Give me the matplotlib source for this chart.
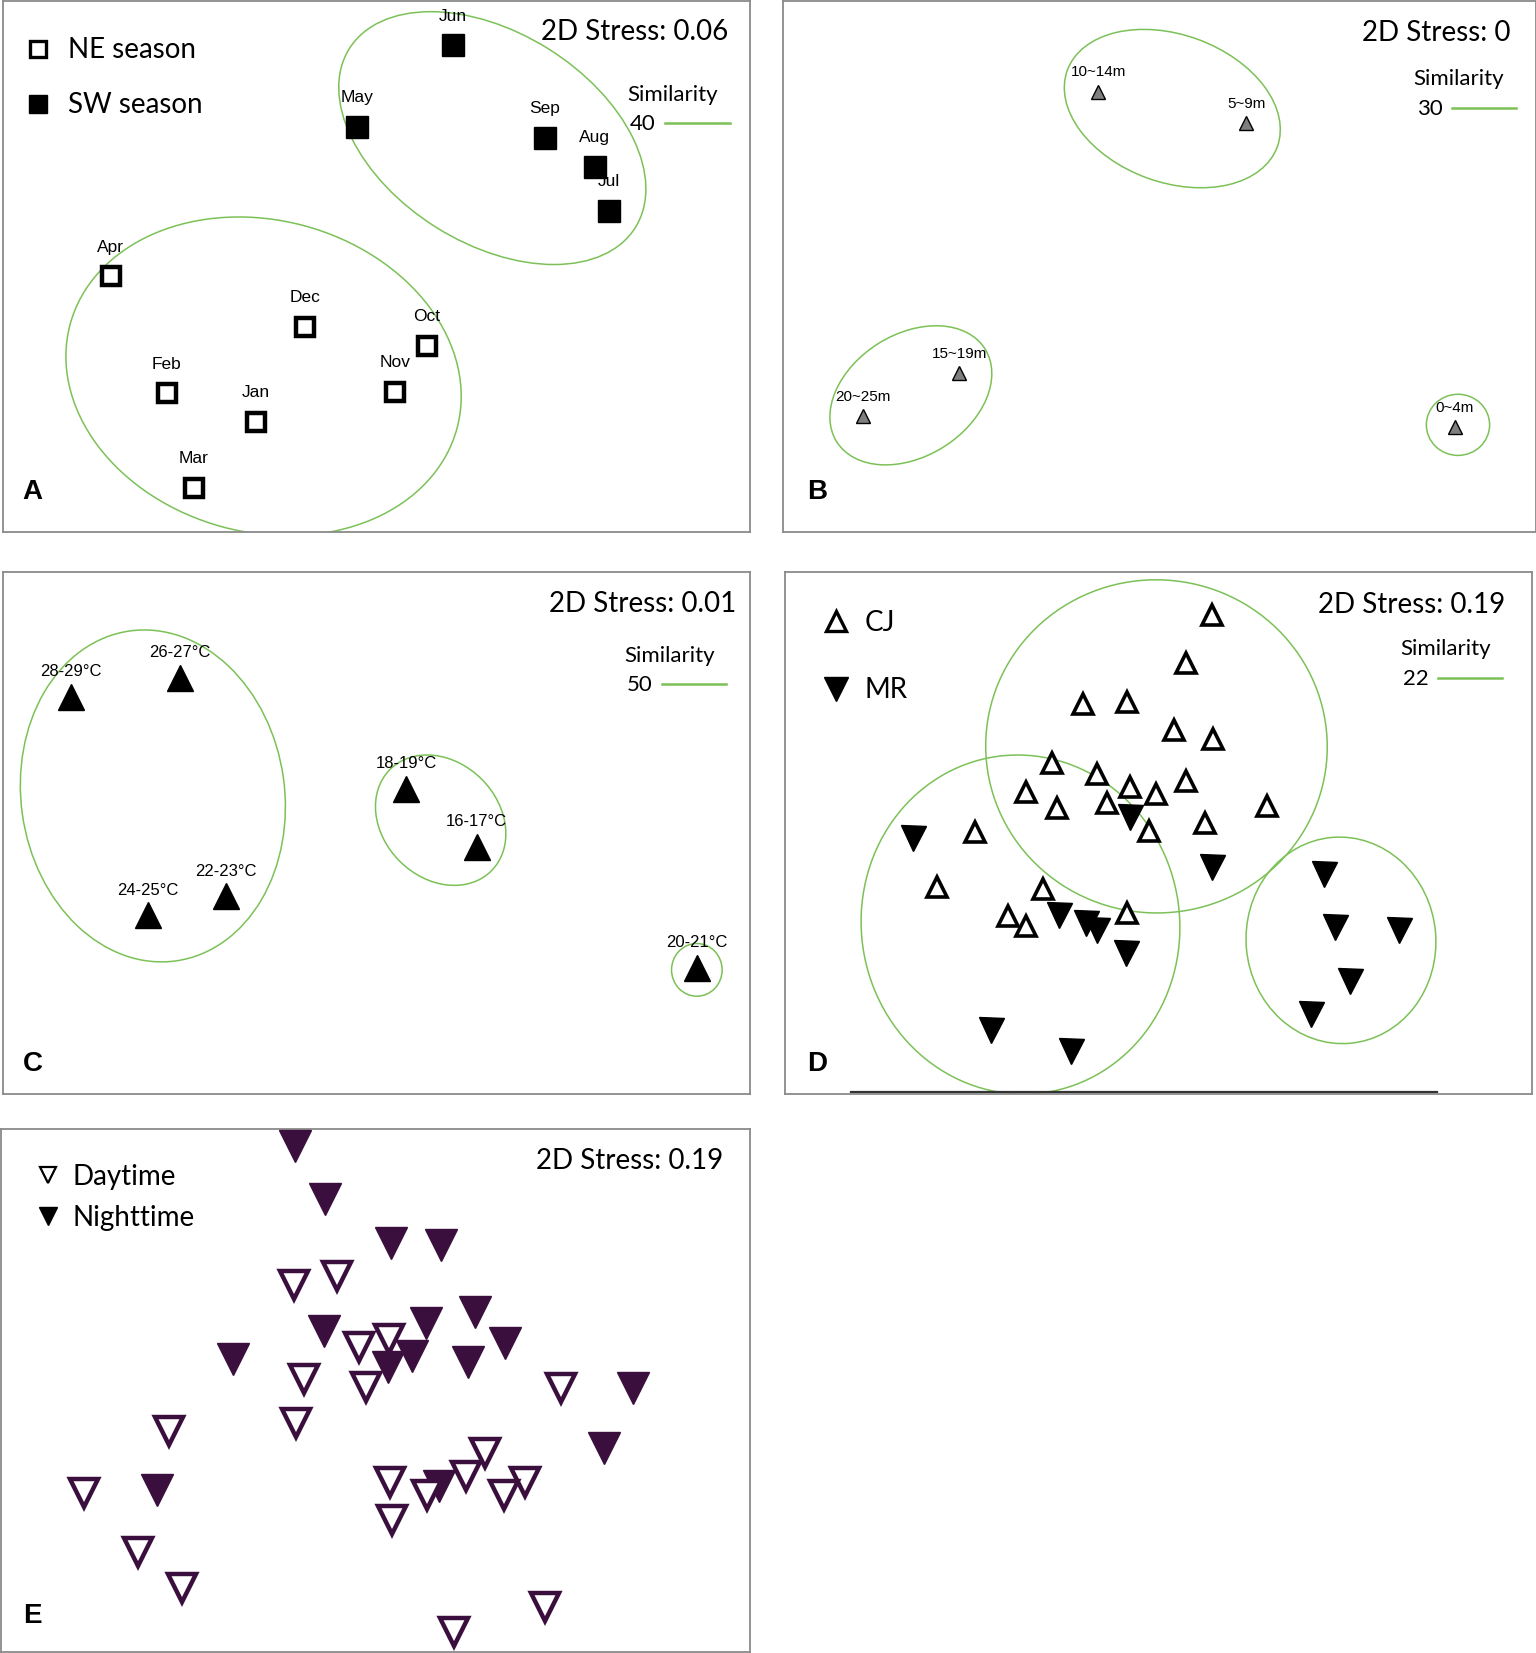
import matplotlib
matplotlib.use("Agg")
from matplotlib import pyplot as plt
from matplotlib.patches import Ellipse
from matplotlib.lines import Line2D

# reference frame (all positions below are read in this pixel frame)
W, H = 1457, 1568

GREEN = "#7cc157"
PURPLE = "#3b0f3d"
FRAME = "#8a8a8a"
CAL = ["Lato", "DejaVu Sans"]
ARL = ["Liberation Sans", "DejaVu Sans"]

# ---------------- panel A: months ----------------
ne_months = ["Apr", "Dec", "Oct", "Feb", "Nov", "Jan", "Mar"]
ne_x = [105, 289, 405, 158, 375, 243, 184]
ne_y = [262, 310, 328, 373, 372, 400, 463]
sw_months = ["Jun", "May", "Sep", "Aug", "Jul"]
sw_x = [430, 339, 517, 564, 578]
sw_y = [43, 120, 131, 158, 200]
a_ell_cx = [467, 250]
a_ell_cy = [131, 357]
a_ell_w = [320, 380]
a_ell_h = [200, 296]
a_ell_ang = [32, 15]

# ---------------- panel B: depth ----------------
depth_labels = ["10~14m", "5~9m", "15~19m", "20~25m", "0~4m"]
depth_x = [1042, 1182, 910, 819, 1380]
depth_y = [87, 117, 354, 395, 405]
b_ell_cx = [1112, 864, 1383]
b_ell_cy = [103, 375, 403]
b_ell_w = [212, 166, 58]
b_ell_h = [140, 116, 60]
b_ell_ang = [20, -32, 90]

# ---------------- panel C: temperature ----------------
temp_labels = ["28-29°C", "26-27°C", "18-19°C", "16-17°C", "24-25°C", "22-23°C", "20-21°C"]
temp_x = [67, 171, 385, 452, 140, 214, 661]
temp_y = [661, 643, 748, 803, 868, 850, 918]
c_ell_cx = [145, 418, 661]
c_ell_cy = [755, 778, 920]
c_ell_w = [250, 136, 48]
c_ell_h = [316, 110, 50]
c_ell_ang = [-8, 45, 0]

# ---------------- panel D: CJ / MR ----------------
cj_x = [1150, 1125, 1027, 1069, 1114, 1151, 998, 1041, 1072, 973, 1003, 1050,
        1097, 1125, 1202, 1143, 1090, 925, 889, 989, 956, 973, 1069]
cj_y = [583, 629, 668, 666, 692, 701, 724, 734, 747, 751, 766, 762,
        753, 741, 765, 781, 788, 789, 841, 843, 869, 878, 866]
mr_x = [1072, 866, 1150, 1256, 1005, 1030, 1041, 1266, 1327, 1068, 1281, 940, 1244, 1016]
mr_y = [775, 795, 822, 829, 868, 876, 882, 879, 882, 904, 931, 977, 962, 997]
d_ell_cx = [1097, 968, 1272]
d_ell_cy = [708, 877, 892]
d_ell_w = [324, 302, 180]
d_ell_h = [316, 322, 196]
d_ell_ang = [3, -8, -5]

# ---------------- panel E: day / night ----------------
night_x = [280, 308, 371, 418, 451, 307, 404, 479, 221, 368, 391, 444, 600, 573, 149, 416]
night_y = [1087, 1137, 1179, 1181, 1245, 1263, 1255, 1274, 1289, 1297, 1286, 1292,
           1317, 1374, 1413, 1410]
day_x = [279, 320, 341, 369, 288, 347, 281, 532, 160, 460, 370, 442, 498, 478, 405,
         80, 372, 131, 173, 517, 431]
day_y = [1219, 1210, 1278, 1270, 1308, 1316, 1350, 1317, 1357, 1378, 1406, 1400,
         1406, 1418, 1418, 1416, 1442, 1472, 1506, 1524, 1548]

fig = plt.figure(figsize=(15.36, 16.53), dpi=100)


def make_panel(box):
    l, t, r, b = box
    ax = fig.add_axes([l / W, 1 - b / H, (r - l) / W, (b - t) / H])
    ax.set_xlim(l, r)
    ax.set_ylim(b, t)
    ax.set_xticks([])
    ax.set_yticks([])
    for s in ax.spines.values():
        s.set_color(FRAME)
        s.set_linewidth(1.3)
    return ax


def draw_ellipses(ax, cx, cy, w, h, ang):
    for i in range(len(cx)):
        ax.add_patch(Ellipse((cx[i], cy[i]), w[i], h[i], angle=ang[i], fill=False,
                             edgecolor=GREEN, linewidth=1.1, zorder=1))


def labels(ax, names, xs, ys, off, size):
    for n, x, y in zip(names, xs, ys):
        ax.annotate(n, (x, y), xytext=(0, off), textcoords="offset points",
                    ha="center", va="center", fontsize=size, family=ARL)


def stress(ax, x, y, txt):
    ax.text(x, y, txt, ha="right", va="center", fontsize=20, family=CAL)


def similarity(ax, x, y, val):
    ax.text(x + 45, y, "Similarity", ha="center", va="center", fontsize=16, family=CAL)
    ax.text(x + 17, y + 28, val, ha="center", va="center", fontsize=16, family=CAL)
    ax.plot([x + 38, x + 99], [y + 27, y + 27], color=GREEN, lw=1.8)


def panel_letter(ax, x, y, letter):
    ax.text(x, y, letter, ha="center", va="center", fontsize=20, fontweight="bold", family=ARL)


# A
axA = make_panel((3, 1, 711, 505))
draw_ellipses(axA, a_ell_cx, a_ell_cy, a_ell_w, a_ell_h, a_ell_ang)
axA.plot(ne_x, ne_y, "s", ms=13, mfc="white", mec="black", mew=3.2, ls="none", zorder=3)
axA.plot(sw_x, sw_y, "s", ms=16, mfc="black", mec="black", ls="none", zorder=3)
labels(axA, ne_months, ne_x, ne_y, 21, 12.5)
labels(axA, sw_months, sw_x, sw_y, 21, 12.5)
stress(axA, 691, 30, "2D Stress: 0.06")
similarity(axA, 593, 90, "40")
panel_letter(axA, 31, 467, "A")
hA = [Line2D([], [], marker="s", ls="none", ms=12, mfc="white", mec="black", mew=2.4),
      Line2D([], [], marker="s", ls="none", ms=13.5, mfc="black", mec="black")]
axA.legend(hA, ["NE season", "SW season"], loc="upper left", bbox_to_anchor=(0.01, 0.958),
           frameon=False, prop={"family": CAL, "size": 20}, labelspacing=1.05,
           handlelength=1.0, handletextpad=0.55, borderpad=0)

# B
axB = make_panel((743, 1, 1457, 505))
draw_ellipses(axB, b_ell_cx, b_ell_cy, b_ell_w, b_ell_h, b_ell_ang)
axB.plot(depth_x, depth_y, "^", ms=10, mfc="#7f7f7f", mec="black", mew=1.0, ls="none", zorder=3)
labels(axB, depth_labels, depth_x, depth_y, 14, 11)
stress(axB, 1433, 31, "2D Stress: 0")
similarity(axB, 1339, 75, "30")
panel_letter(axB, 775, 467, "B")

# C
axC = make_panel((3, 543, 711, 1038))
draw_ellipses(axC, c_ell_cx, c_ell_cy, c_ell_w, c_ell_h, c_ell_ang)
axC.plot(temp_x, temp_y, "^", ms=19, mfc="black", mec="black", ls="none", zorder=3)
labels(axC, temp_labels, temp_x, temp_y, 18, 12)
stress(axC, 698, 573, "2D Stress: 0.01")
similarity(axC, 590, 622, "50")
panel_letter(axC, 31, 1009, "C")

# D
axD = make_panel((745, 543, 1453, 1038))
draw_ellipses(axD, d_ell_cx, d_ell_cy, d_ell_w, d_ell_h, d_ell_ang)
axD.plot(cj_x, cj_y, "^", ms=15, mfc="white", mec="black", mew=2.6, ls="none", zorder=3)
axD.plot(mr_x, mr_y, "v", ms=18, mfc="black", mec="black", ls="none", zorder=4)
stress(axD, 1428, 574, "2D Stress: 0.19")
similarity(axD, 1326, 616, "22")
panel_letter(axD, 775, 1009, "D")
axD.axhline(1036, xmin=(807 - 745) / 708, xmax=(1363 - 745) / 708, color="#333333", lw=1.6)
hD = [Line2D([], [], marker="^", ls="none", ms=15, mfc="white", mec="black", mew=2.4),
      Line2D([], [], marker="v", ls="none", ms=17, mfc="black", mec="black")]
axD.legend(hD, ["CJ", "MR"], loc="upper left", bbox_to_anchor=(0.03, 0.955),
           frameon=False, prop={"family": CAL, "size": 20}, labelspacing=1.5,
           handlelength=1.0, handletextpad=0.55, borderpad=0)

# E
axE = make_panel((1, 1071, 711, 1567))
axE.plot(night_x, night_y, "v", ms=23, mfc=PURPLE, mec=PURPLE, ls="none", zorder=3)
axE.plot(day_x, day_y, "v", ms=20, mfc="white", mec=PURPLE, mew=3.2, ls="none", zorder=4)
stress(axE, 686, 1101, "2D Stress: 0.19")
panel_letter(axE, 31, 1533, "E")
hE = [Line2D([], [], marker="v", ls="none", ms=12, mfc="white", mec="black", mew=1.6),
      Line2D([], [], marker="v", ls="none", ms=13, mfc="black", mec="black")]
axE.legend(hE, ["Daytime", "Nighttime"], loc="upper left", bbox_to_anchor=(0.025, 0.96),
           frameon=False, prop={"family": CAL, "size": 20}, labelspacing=0.55,
           handlelength=1.0, handletextpad=0.4, borderpad=0)

fig.savefig("out.png", dpi=100)
